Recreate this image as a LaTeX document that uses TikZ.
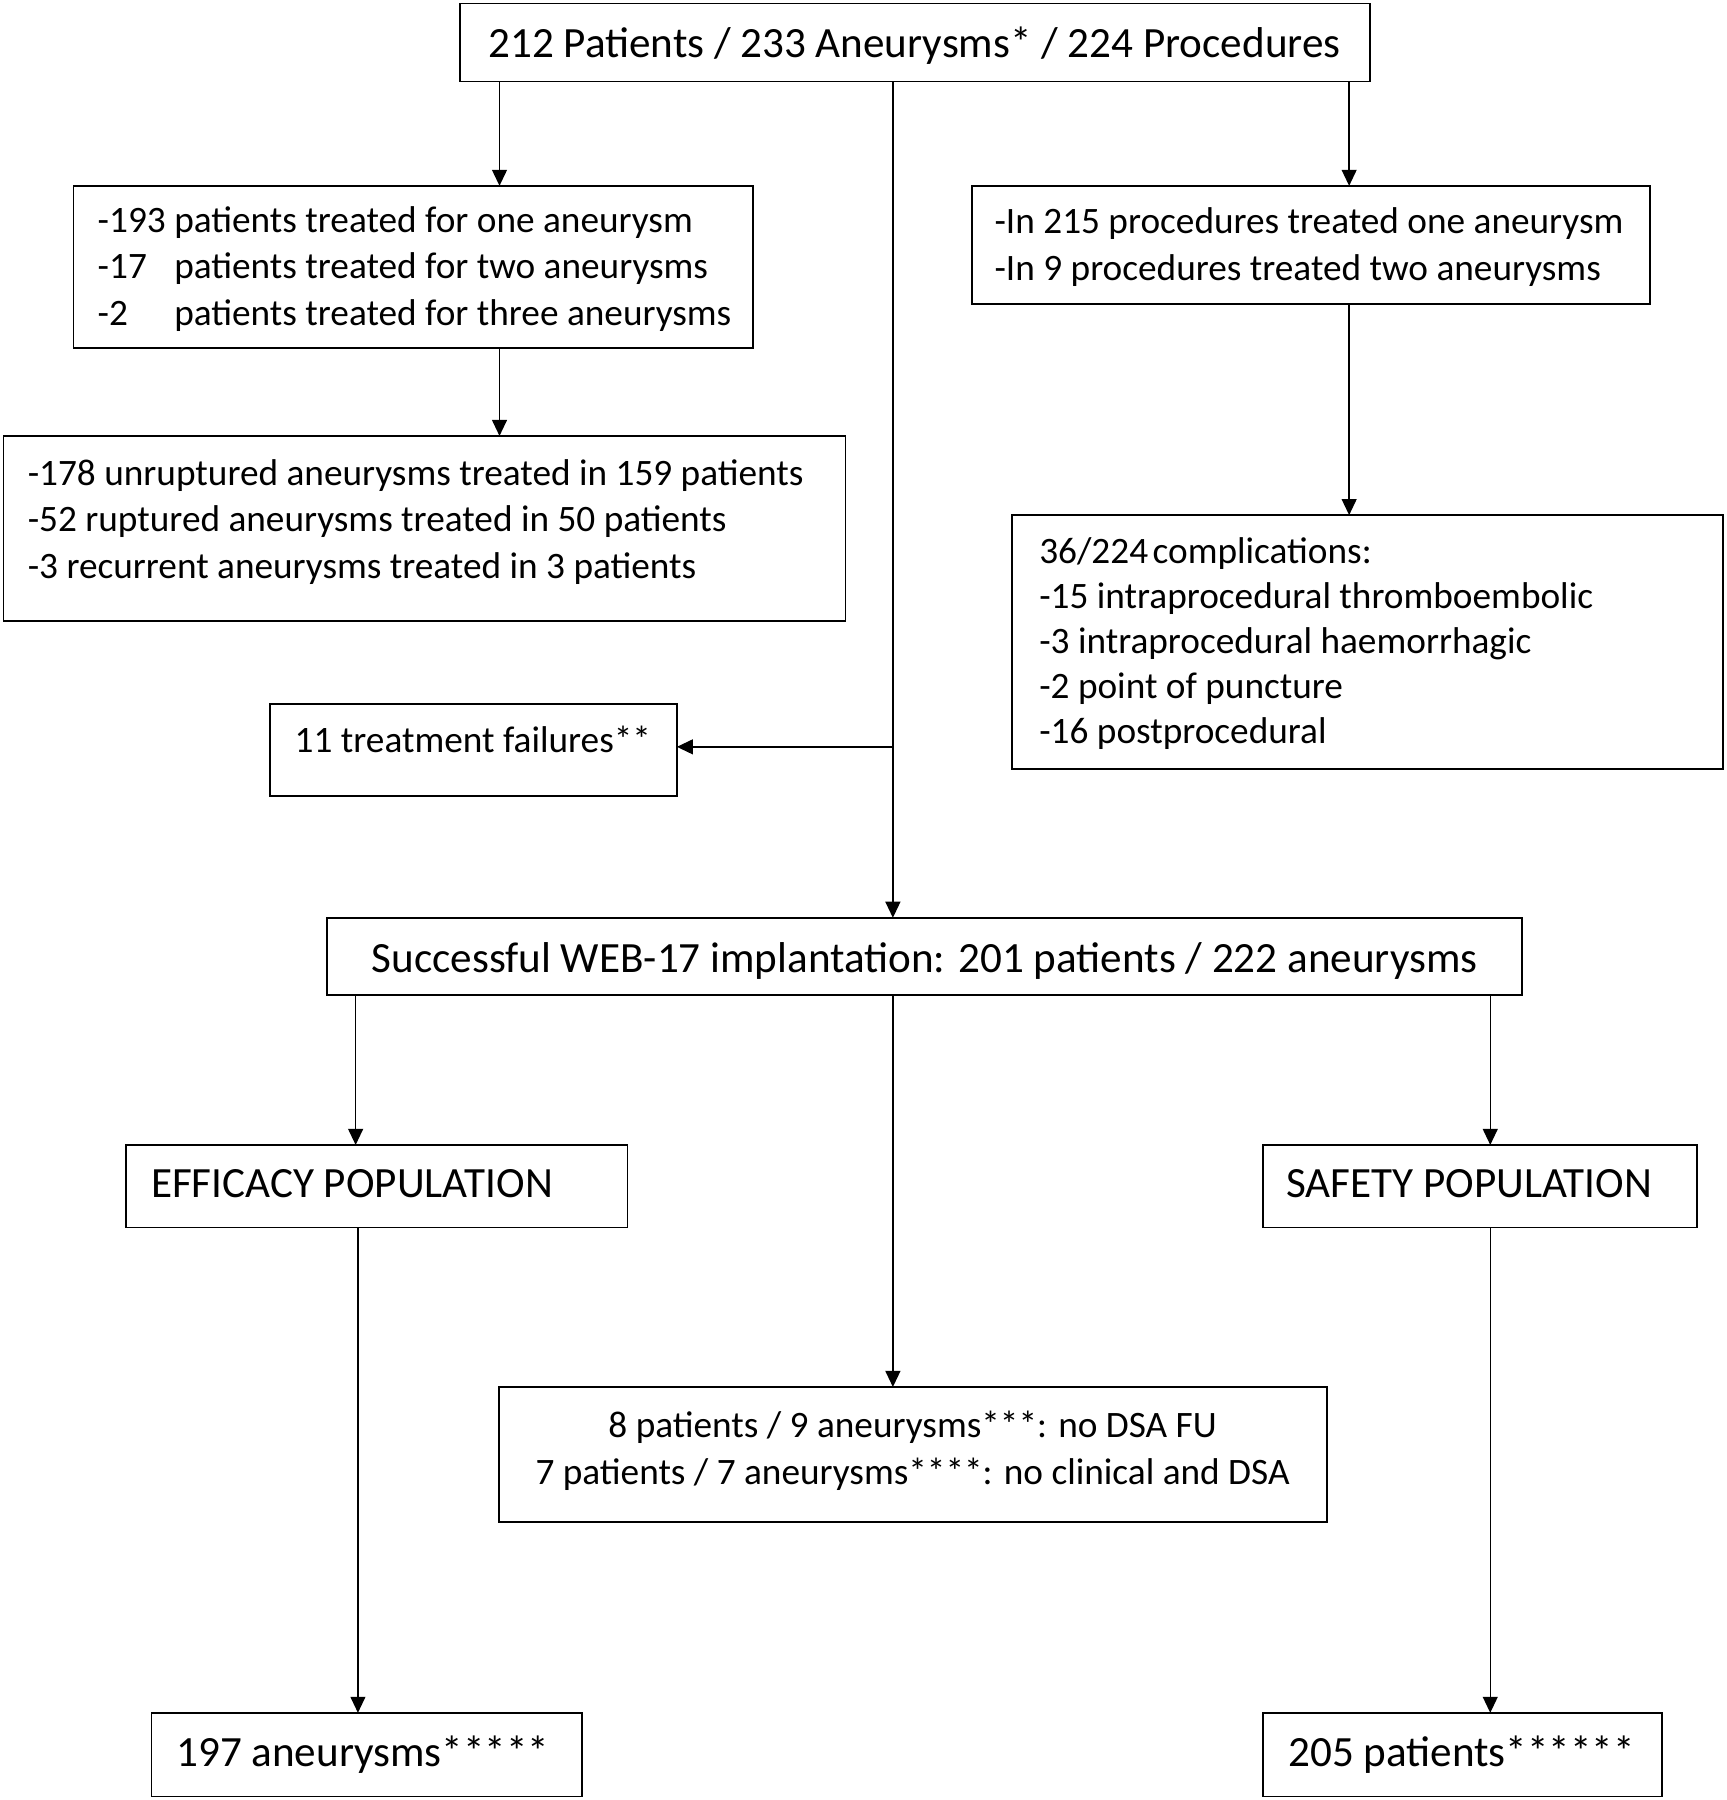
\documentclass[tikz,border=0pt]{standalone}
\usepackage{fontspec}
\setmainfont{Carlito}
\usetikzlibrary{arrows.meta}
\begin{document}
\begin{tikzpicture}[x=1pt,y=-1pt,
  box/.style={draw=black, line width=1.6pt, inner sep=0pt, outer sep=0pt, anchor=north west},
  arr/.style={draw=black, line width=1.3pt, -{Triangle[length=14pt,width=13pt]}},
  tn/.style={inner sep=0pt, font=\fontsize{32.5}{39}\selectfont, anchor=mid west, yshift=-6.5pt},
  tb/.style={inner sep=0pt, font=\fontsize{37.6}{45}\selectfont, anchor=mid west, yshift=-7pt}]
\useasboundingbox (0,0) rectangle (1505,1569);

% boxes
\node[box, minimum width=793pt, minimum height=68pt]  (top)  at (401,3) {};
\node[box, minimum width=592pt, minimum height=141pt] (b1)   at (64,162) {};
\node[box, minimum width=734pt, minimum height=161pt] (b2)   at (3,380) {};
\node[box, minimum width=355pt, minimum height=80pt]  (tf)   at (235,614) {};
\node[box, minimum width=591pt, minimum height=103pt] (r1)   at (847,162) {};
\node[box, minimum width=620pt, minimum height=221pt] (r2)   at (882,449) {};
\node[box, minimum width=1042pt, minimum height=67pt] (succ) at (285,800) {};
\node[box, minimum width=437pt, minimum height=72pt]  (eff)  at (110,998) {};
\node[box, minimum width=378pt, minimum height=72pt]  (saf)  at (1101,998) {};
\node[box, minimum width=722pt, minimum height=118pt] (nd)   at (435,1209) {};
\node[box, minimum width=375pt, minimum height=73pt]  (bl)   at (132,1493) {};
\node[box, minimum width=348pt, minimum height=73pt]  (br)   at (1101,1493) {};

% texts
\node[tb, anchor=mid] (ttop) at (797,40.7) {212 Patients / 233 Aneurysms* / 224 Procedures};

\node[tn] (t1a) at (85,193.6) {-193 patients treated for one aneurysm};
\node[tn] (t1b) at (85,234) {\makebox[2.053em][l]{-17}patients treated for two aneurysms};
\node[tn] (t1c) at (85,274.6) {\makebox[2.053em][l]{-2}patients treated for three aneurysms};

\node[tn] (t2a) at (24,414) {-178 unruptured aneurysms treated in 159 patients};
\node[tn] (t2b) at (24,454) {-52 ruptured aneurysms treated in 50 patients};
\node[tn] (t2c) at (24,495) {-3 recurrent aneurysms treated in 3 patients};

\node[tn] (tr1a) at (866.7,194.7) {-In 215 procedures treated one aneurysm};
\node[tn] (tr1b) at (866.7,235.4) {-In 9 procedures treated two aneurysms};

\node[tn] (tr2a) at (905.7,482.4) {36/224\hspace{0.12em}complications:};
\node[tn] (tr2b) at (905.7,521.6) {-15 intraprocedural thromboembolic};
\node[tn] (tr2c) at (905.7,560.8) {-3 intraprocedural haemorrhagic};
\node[tn] (tr2d) at (905.7,600) {-2 point of puncture};
\node[tn] (tr2e) at (905.7,639) {-16 postprocedural};

\node[tn] (ttf) at (256.7,646.6) {11 treatment failures**};

\node[tb, anchor=mid] (tsucc) at (806,838.4) {Successful WEB-17 implantation: 201 patients / 222 aneurysms};
\node[tb] (teff) at (131.5,1034.6) {EFFICACY POPULATION};
\node[tb] (tsaf) at (1121,1034.6) {SAFETY POPULATION};

\node[tn, anchor=mid] (tnda) at (795.5,1243.8) {8 patients / 9 aneurysms***: no DSA FU};
\node[tn, anchor=mid] (tndb) at (795.5,1285) {7 patients / 7 aneurysms****: no clinical and DSA};

\node[tb] (tbl) at (153.5,1530) {197 aneurysms*****};
\node[tb] (tbr) at (1122.8,1530) {205 patients******};

% connector columns
\coordinate (cL) at (435.4,0);
\coordinate (cM) at (778.3,0);
\coordinate (cR) at (1176,0);
\coordinate (cE) at (310,0);
\coordinate (cE2) at (312,0);
\coordinate (cS) at (1299,0);
\coordinate (split) at (778.3,651);

% connectors
\draw[arr] (cL |- top.south) -- (cL |- b1.north);
\draw[arr] (cL |- b1.south) -- (cL |- b2.north);
\draw[arr] (cR |- top.south) -- (cR |- r1.north);
\draw[arr] (cR |- r1.south) -- (cR |- r2.north);
\draw[arr] (cM |- top.south) -- (cM |- succ.north);
\draw[arr] (split) -- (split -| tf.east);
\draw[arr] (cE |- succ.south) -- (cE |- eff.north);
\draw[arr] (cM |- succ.south) -- (cM |- nd.north);
\draw[arr] (cS |- succ.south) -- (cS |- saf.north);
\draw[arr] (cE2 |- eff.south) -- (cE2 |- bl.north);
\draw[arr] (cS |- saf.south) -- (cS |- br.north);
\end{tikzpicture}
\end{document}
